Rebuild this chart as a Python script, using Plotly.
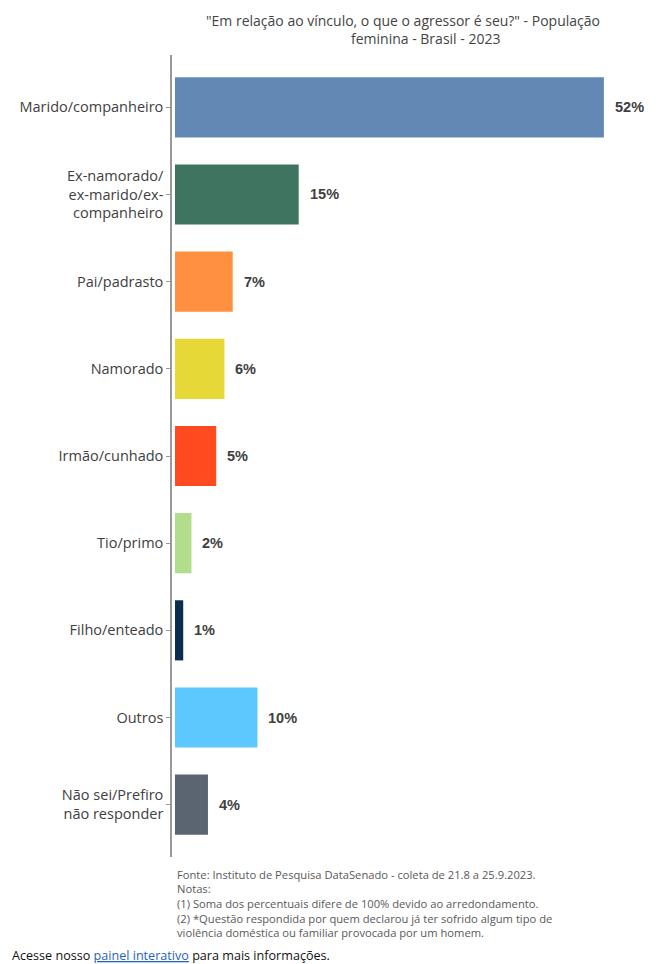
import plotly.graph_objects as go

categories = [
    "Marido/companheiro",
    "Ex-namorado/<br>ex-marido/ex-<br>companheiro",
    "Pai/padrasto",
    "Namorado",
    "Irmão/cunhado",
    "Tio/primo",
    "Filho/enteado",
    "Outros",
    "Não sei/Prefiro<br>não responder",
]
values = [52, 15, 7, 6, 5, 2, 1, 10, 4]
labels = ["52%", "15%", "7%", "6%", "5%", "2%", "1%", "10%", "4%"]
colors = ["#6388B4", "#3F7461", "#FF9040", "#E6D837", "#FF4B1F",
          "#B2DE8C", "#0B2D4F", "#5DC8FD", "#5B6471"]

title_lines = ['"Em relação ao vínculo, o que o agressor é seu?" - População',
               'feminina - Brasil - 2023']
footer_lines = [
    "Fonte: Instituto de Pesquisa DataSenado - coleta de 21.8 a 25.9.2023.",
    "Notas:",
    "(1) Soma dos percentuais difere de 100% devido ao arredondamento.",
    "(2) *Questão respondida por quem declarou já ter sofrido algum tipo de",
    "violência doméstica ou familiar provocada por um homem.",
]

FONT = "Open Sans, Lato, sans-serif"

W, H = 664, 964
pl, pr, pt, pb = 172, 4, 55, 107
pw, ph = W - pl - pr, H - pt - pb

def px(x):
    return (x - pl) / pw

def py(y):
    return (H - pb - y) / ph

fig = go.Figure(go.Bar(
    x=values, y=categories, orientation="h",
    marker=dict(color=colors, line=dict(width=0)),
    width=0.69, hoverinfo="skip",
))

annotations = []
for cat, v, lab in zip(categories, values, labels):
    annotations.append(dict(
        x=v, y=cat, xref="x", yref="y", text=f"<b>{lab}</b>",
        showarrow=False, xanchor="left", yanchor="middle", xshift=9,
        font=dict(family="Arial, Liberation Sans, sans-serif", size=14.5, color="#404040"),
    ))

for (cx, cy), line in zip([(403, 20), (425, 39)], title_lines):
    annotations.append(dict(
        x=px(cx), y=py(cy), xref="paper", yref="paper", text=line,
        showarrow=False, xanchor="center", yanchor="middle",
        font=dict(family=FONT, size=14, color="#444444"),
    ))

for i, line in enumerate(footer_lines):
    annotations.append(dict(
        x=px(175), y=py(874 + i * 14.7), xref="paper", yref="paper",
        text=line, showarrow=False, xanchor="left", yanchor="middle",
        font=dict(family=FONT, size=11.2, color="#595959"),
    ))

annotations.append(dict(
    x=px(10), y=py(955), xref="paper", yref="paper",
    text='Acesse nosso <span style="color:#1F5FBF"><u>painel interativo</u></span> para mais informações.',
    showarrow=False, xanchor="left", yanchor="middle",
    font=dict(family=FONT, size=12.6, color="#111111"),
))

fig.update_layout(
    width=W, height=H,
    margin=dict(l=pl, r=pr, t=pt, b=pb),
    paper_bgcolor="white", plot_bgcolor="white",
    showlegend=False,
    xaxis=dict(range=[-0.36, 58.8], visible=False, showgrid=False, zeroline=False),
    yaxis=dict(
        autorange=False, range=[8.6, -0.6],
        showline=True, linecolor="#999999", linewidth=1.5,
        ticks="outside", ticklen=4, tickcolor="#999999",
        tickfont=dict(family=FONT, size=14.5, color="#404040"),
        showgrid=False, zeroline=False,
    ),
    annotations=annotations,
)

fig.write_html("out.html")
